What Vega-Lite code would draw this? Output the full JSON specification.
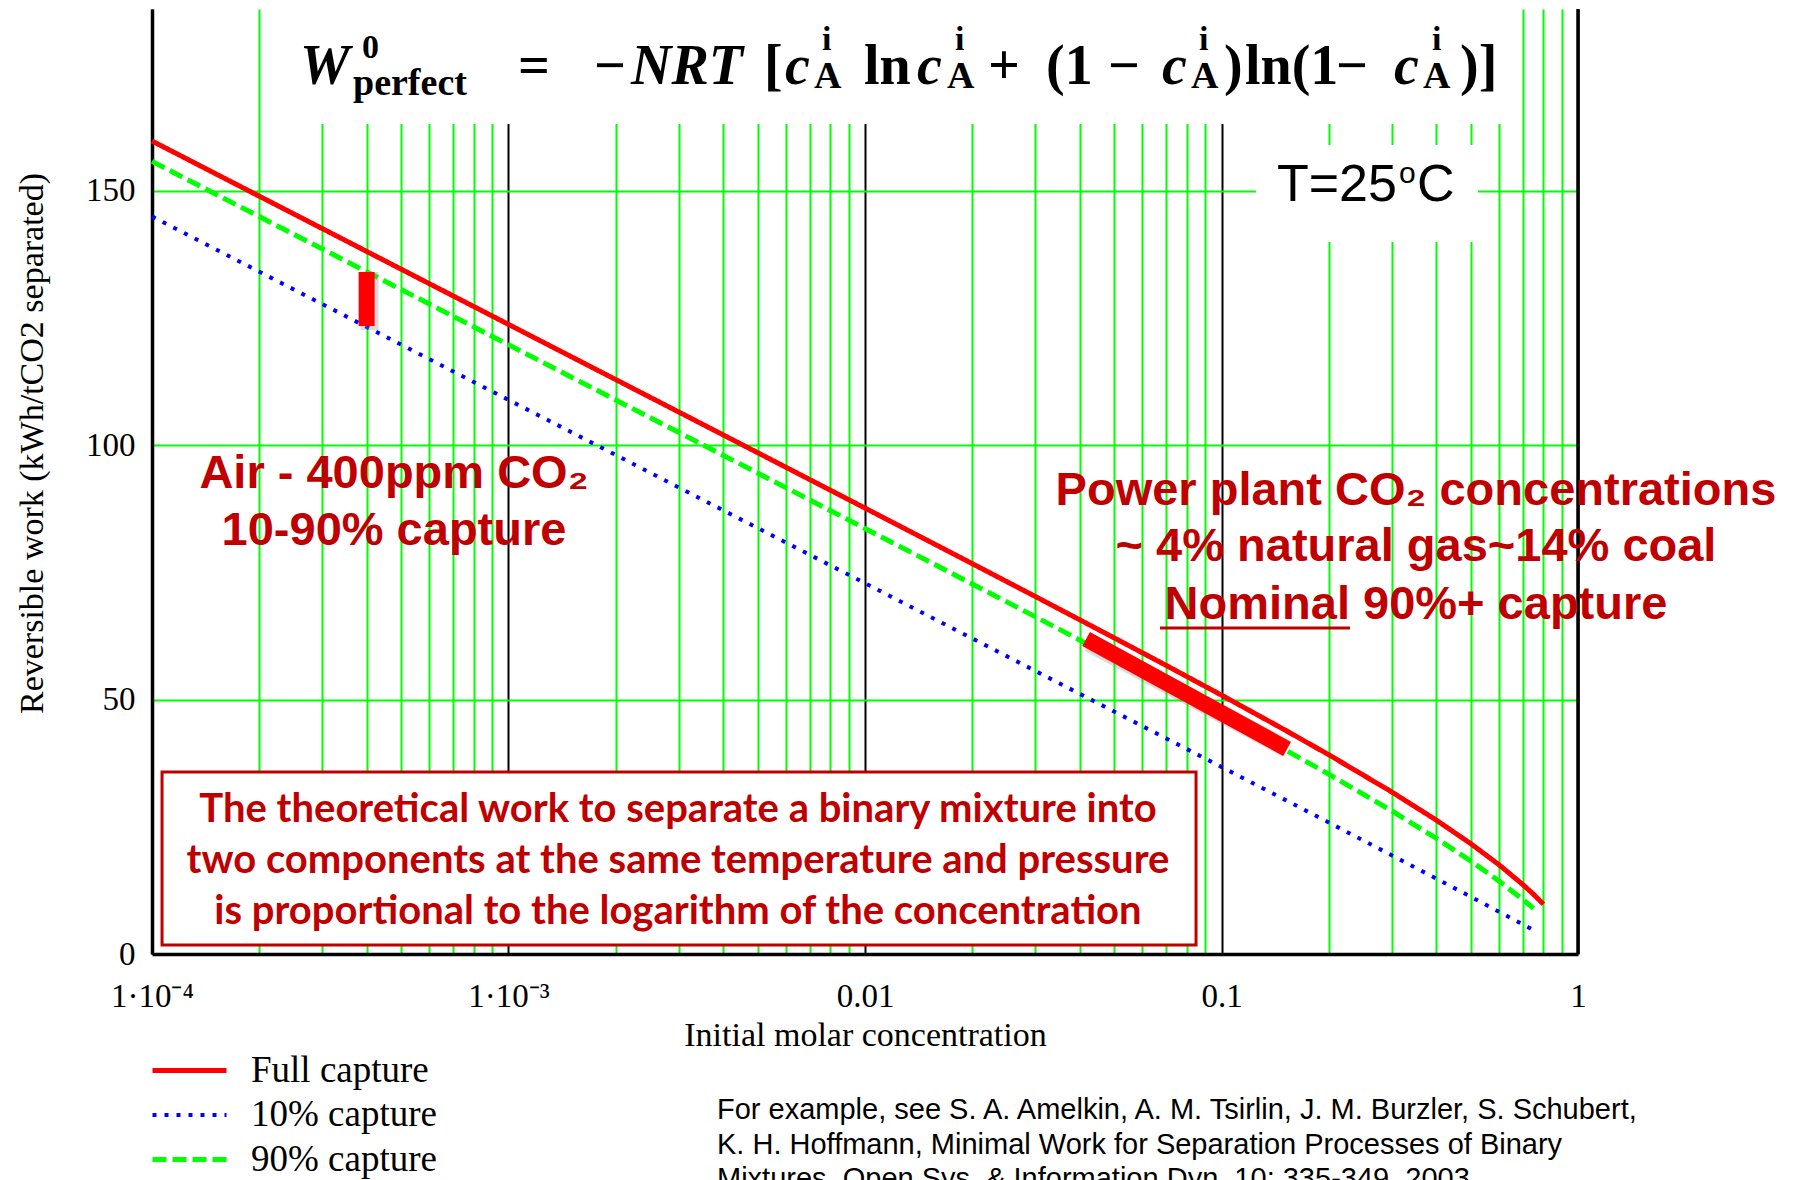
{
  "$schema": "https://vega.github.io/schema/vega-lite/v6.json",
  "width": 1426,
  "height": 945,
  "autosize": {"type": "none"},
  "padding": {"left": 152, "top": 9, "right": 215, "bottom": 226},
  "background": "white",
  "config": {
    "view": {"stroke": null},
    "legend": {
      "orient": "none",
      "legendX": -2,
      "legendY": 1043,
      "padding": 0,
      "symbolType": "stroke",
      "symbolSize": 5476,
      "labelFont": "Liberation Serif",
      "labelFontSize": 37,
      "labelColor": "black",
      "labelLimit": 0,
      "labelOffset": 22,
      "clipHeight": 37,
      "rowPadding": 6.5,
      "title": null
    }
  },
  "datasets": {
    "boxes": [
      {"x": 0.0002286, "x2": 0.6489, "y": 163.1, "y2": 185.7},
      {"x": 0.1249, "x2": 0.5242, "y": 139.9, "y2": 158.97}
    ],
    "curves": [
      {"x": 0.0001, "y": 159.76, "s": "Full capture"},
      {"x": 0.0002, "y": 148.91, "s": "Full capture"},
      {"x": 0.0003, "y": 142.57, "s": "Full capture"},
      {"x": 0.0005, "y": 134.57, "s": "Full capture"},
      {"x": 0.001, "y": 123.72, "s": "Full capture"},
      {"x": 0.002, "y": 112.87, "s": "Full capture"},
      {"x": 0.003, "y": 106.52, "s": "Full capture"},
      {"x": 0.005, "y": 98.51, "s": "Full capture"},
      {"x": 0.01, "y": 87.63, "s": "Full capture"},
      {"x": 0.02, "y": 76.70, "s": "Full capture"},
      {"x": 0.03, "y": 70.28, "s": "Full capture"},
      {"x": 0.05, "y": 62.12, "s": "Full capture"},
      {"x": 0.07, "y": 56.70, "s": "Full capture"},
      {"x": 0.1, "y": 50.87, "s": "Full capture"},
      {"x": 0.15, "y": 44.09, "s": "Full capture"},
      {"x": 0.2, "y": 39.15, "s": "Full capture"},
      {"x": 0.3, "y": 31.86, "s": "Full capture"},
      {"x": 0.4, "y": 26.33, "s": "Full capture"},
      {"x": 0.5, "y": 21.69, "s": "Full capture"},
      {"x": 0.6, "y": 17.55, "s": "Full capture"},
      {"x": 0.7, "y": 13.65, "s": "Full capture"},
      {"x": 0.75, "y": 11.73, "s": "Full capture"},
      {"x": 0.8, "y": 9.79, "s": "Full capture"},
      {"x": 0.0001, "y": 144.92, "s": "10% capture"},
      {"x": 0.0002, "y": 134.08, "s": "10% capture"},
      {"x": 0.0003, "y": 127.73, "s": "10% capture"},
      {"x": 0.0005, "y": 119.74, "s": "10% capture"},
      {"x": 0.001, "y": 108.89, "s": "10% capture"},
      {"x": 0.002, "y": 98.05, "s": "10% capture"},
      {"x": 0.003, "y": 91.70, "s": "10% capture"},
      {"x": 0.005, "y": 83.71, "s": "10% capture"},
      {"x": 0.01, "y": 72.86, "s": "10% capture"},
      {"x": 0.02, "y": 62.01, "s": "10% capture"},
      {"x": 0.03, "y": 55.65, "s": "10% capture"},
      {"x": 0.05, "y": 47.64, "s": "10% capture"},
      {"x": 0.07, "y": 42.36, "s": "10% capture"},
      {"x": 0.1, "y": 36.76, "s": "10% capture"},
      {"x": 0.15, "y": 30.38, "s": "10% capture"},
      {"x": 0.2, "y": 25.84, "s": "10% capture"},
      {"x": 0.3, "y": 19.41, "s": "10% capture"},
      {"x": 0.4, "y": 14.83, "s": "10% capture"},
      {"x": 0.5, "y": 11.26, "s": "10% capture"},
      {"x": 0.6, "y": 8.32, "s": "10% capture"},
      {"x": 0.7, "y": 5.83, "s": "10% capture"},
      {"x": 0.77, "y": 4.28, "s": "10% capture"},
      {"x": 0.0001, "y": 155.76, "s": "90% capture"},
      {"x": 0.0002, "y": 144.91, "s": "90% capture"},
      {"x": 0.0003, "y": 138.57, "s": "90% capture"},
      {"x": 0.0005, "y": 130.57, "s": "90% capture"},
      {"x": 0.001, "y": 119.72, "s": "90% capture"},
      {"x": 0.002, "y": 108.87, "s": "90% capture"},
      {"x": 0.003, "y": 102.52, "s": "90% capture"},
      {"x": 0.005, "y": 94.51, "s": "90% capture"},
      {"x": 0.01, "y": 83.63, "s": "90% capture"},
      {"x": 0.02, "y": 72.71, "s": "90% capture"},
      {"x": 0.03, "y": 66.30, "s": "90% capture"},
      {"x": 0.05, "y": 58.16, "s": "90% capture"},
      {"x": 0.07, "y": 52.75, "s": "90% capture"},
      {"x": 0.1, "y": 46.95, "s": "90% capture"},
      {"x": 0.15, "y": 40.22, "s": "90% capture"},
      {"x": 0.2, "y": 35.33, "s": "90% capture"},
      {"x": 0.3, "y": 28.15, "s": "90% capture"},
      {"x": 0.4, "y": 22.75, "s": "90% capture"},
      {"x": 0.5, "y": 18.28, "s": "90% capture"},
      {"x": 0.6, "y": 14.34, "s": "90% capture"},
      {"x": 0.7, "y": 10.71, "s": "90% capture"},
      {"x": 0.75, "y": 8.97, "s": "90% capture"}
    ],
    "airbar": [{"x": 0.0004, "y": 123.4, "y2": 134.0}],
    "plantbar": [{"x": 0.0417, "x2": 0.1527, "y": 61.9, "y2": 40.3}],
    "frame": [{"x": 1, "y": 0, "y2": 185.7}],
    "textbox": [{"x": 0.0001067, "x2": 0.08483, "y": 1.77, "y2": 35.76}],
    "boxtext": [
      {"x": 0.002988, "y": 25.94, "t": "The theoretical work to separate a binary mixture into"},
      {"x": 0.002988, "y": 15.92, "t": "two components at the same temperature and pressure"},
      {"x": 0.002988, "y": 5.90, "t": "is proportional to the logarithm of the concentration"}
    ],
    "notes": [
      {"x": 0.0004773, "y": 91.57, "t": "Air - 400ppm CO₂"},
      {"x": 0.0004773, "y": 80.37, "t": "10-90% capture"},
      {"x": 0.3512, "y": 88.23, "t": "Power plant CO₂ concentrations"},
      {"x": 0.3512, "y": 77.23, "t": "~ 4% natural gas~14% coal"},
      {"x": 0.3512, "y": 65.83, "t": "Nominal 90%+ capture"}
    ],
    "underline": [{"x": 0.06723, "x2": 0.2293, "y": 64.06}],
    "tbig": [
      {"x": 0.1431, "y": 147.96, "t": "T=25"},
      {"x": 0.3535, "y": 147.96, "t": "C"}
    ],
    "tsmall": [{"x": 0.3147, "y": 151.5, "t": "o"}],
    "fItalic": [
      {"x": 0.0002601, "y": 171.0, "t": "W"},
      {"x": 0.002206, "y": 171.0, "t": "NRT"},
      {"x": 0.005966, "y": 171.0, "t": "c"},
      {"x": 0.01399, "y": 171.0, "t": "c"},
      {"x": 0.06809, "y": 171.0, "t": "c"},
      {"x": 0.3047, "y": 171.0, "t": "c"}
    ],
    "fUpright": [
      {"x": 0.0010633, "y": 171.0, "t": "="},
      {"x": 0.001737, "y": 171.0, "t": "−"},
      {"x": 0.005209, "y": 171.0, "t": "["},
      {"x": 0.009935, "y": 171.0, "t": "ln"},
      {"x": 0.02213, "y": 171.0, "t": "+"},
      {"x": 0.03219, "y": 171.0, "t": "(1"},
      {"x": 0.04804, "y": 171.0, "t": "−"},
      {"x": 0.10163, "y": 171.0, "t": ")"},
      {"x": 0.1164, "y": 171.0, "t": "ln(1"},
      {"x": 0.2095, "y": 171.0, "t": "−"},
      {"x": 0.4667, "y": 171.0, "t": ")]"}
    ],
    "fSub": [
      {"x": 0.0003663, "y": 168.8, "t": "perfect"},
      {"x": 0.007194, "y": 170.2, "t": "A"},
      {"x": 0.01698, "y": 170.2, "t": "A"},
      {"x": 0.08213, "y": 170.2, "t": "A"},
      {"x": 0.3675, "y": 170.2, "t": "A"}
    ],
    "fSup": [
      {"x": 0.0003882, "y": 176.1, "t": "0"},
      {"x": 0.007575, "y": 177.6, "t": "i"},
      {"x": 0.01788, "y": 177.6, "t": "i"},
      {"x": 0.08648, "y": 177.6, "t": "i"},
      {"x": 0.3895, "y": 177.6, "t": "i"}
    ],
    "footnote": [
      {"x": 0.003845, "y": -32.42, "t": "For example, see S. A. Amelkin, A. M. Tsirlin, J. M. Burzler, S. Schubert,"},
      {"x": 0.003845, "y": -39.30, "t": "K. H. Hoffmann, Minimal Work for Separation Processes of Binary"},
      {"x": 0.003845, "y": -45.98, "t": "Mixtures, Open Sys. & Information Dyn. 10: 335-349, 2003."}
    ]
  },
  "encoding": {
    "x": {
      "field": "x",
      "type": "quantitative",
      "scale": {"type": "log", "domain": [0.0001, 1], "nice": false},
      "axis": {
        "values": [0.0001, 0.0002, 0.0003, 0.0004, 0.0005, 0.0006, 0.0007, 0.0008, 0.0009,
                   0.001, 0.002, 0.003, 0.004, 0.005, 0.006, 0.007, 0.008, 0.009,
                   0.01, 0.02, 0.03, 0.04, 0.05, 0.06, 0.07, 0.08, 0.09,
                   0.1, 0.2, 0.3, 0.4, 0.5, 0.6, 0.7, 0.8, 0.9, 1],
        "labelExpr": "datum.value < 0.00015 ? '1·10⁻⁴' : (abs(datum.value - 0.001) < 1e-9 ? '1·10⁻³' : (abs(datum.value - 0.01) < 1e-9 ? '0.01' : (abs(datum.value - 0.1) < 1e-9 ? '0.1' : (datum.value == 1 ? '1' : ''))))",
        "labelFont": "Liberation Serif",
        "labelFontSize": 33,
        "labelColor": "black",
        "labelPadding": 26,
        "labelOverlap": false,
        "labelFlush": false,
        "ticks": false,
        "domainColor": "black",
        "domainWidth": 3.5,
        "grid": true,
        "gridColor": {"condition": {"test": "abs(log(datum.value)/LN10 - round(log(datum.value)/LN10)) < 0.001", "value": "black"}, "value": "#00ff00"},
        "gridWidth": 2,
        "gridOpacity": 1,
        "title": "Initial molar concentration",
        "titleFont": "Liberation Serif",
        "titleFontSize": 34,
        "titleFontWeight": "normal",
        "titleColor": "black",
        "titleBaseline": "alphabetic",
        "titleY": 91
      }
    },
    "y": {
      "field": "y",
      "type": "quantitative",
      "scale": {"domain": [0, 185.7], "nice": false, "zero": false},
      "axis": {
        "values": [0, 50, 100, 150],
        "labelFont": "Liberation Serif",
        "labelFontSize": 33,
        "labelColor": "black",
        "labelPadding": 17,
        "ticks": false,
        "domainColor": "black",
        "domainWidth": 3.5,
        "grid": true,
        "gridColor": "#00ff00",
        "gridWidth": 2,
        "gridOpacity": {"condition": {"test": "datum.value == 0", "value": 0}, "value": 1},
        "title": "Reversible work (kWh/tCO2 separated)",
        "titleFont": "Liberation Serif",
        "titleFontSize": 34,
        "titleFontWeight": "normal",
        "titleColor": "black",
        "titleBaseline": "alphabetic",
        "titleAlign": "center",
        "titleAngle": -90,
        "titleX": -110,
        "titleY": 434
      }
    }
  },
  "layer": [
    {
      "data": {"name": "boxes"},
      "mark": {"type": "rect", "fill": "white"},
      "encoding": {"x2": {"field": "x2"}, "y2": {"field": "y2"}}
    },
    {
      "data": {"name": "curves"},
      "mark": {"type": "line", "strokeCap": "butt"},
      "encoding": {
        "color": {"field": "s", "type": "nominal", "scale": {"domain": ["Full capture", "10% capture", "90% capture"], "range": ["#ff0000", "#0000ff", "#00ff00"]}},
        "strokeDash": {"field": "s", "type": "nominal", "scale": {"domain": ["Full capture", "10% capture", "90% capture"], "range": [[1, 0], [4, 8], [14, 6]]}},
        "strokeWidth": {"field": "s", "type": "nominal", "scale": {"type": "ordinal", "domain": ["Full capture", "10% capture", "90% capture"], "range": [5, 4, 5]}}
      }
    },
    {
      "data": {"name": "airbar"},
      "mark": {"type": "rule", "color": "#888888", "opacity": 0.3, "strokeWidth": 18, "strokeCap": "butt", "xOffset": 3, "yOffset": 4},
      "encoding": {"y2": {"field": "y2"}}
    },
    {
      "data": {"name": "airbar"},
      "mark": {"type": "rule", "color": "#ff0000", "strokeWidth": 16, "strokeCap": "butt"},
      "encoding": {"y2": {"field": "y2"}}
    },
    {
      "data": {"name": "plantbar"},
      "mark": {"type": "rule", "color": "#888888", "opacity": 0.3, "strokeWidth": 18, "strokeCap": "butt", "xOffset": 3, "yOffset": 4},
      "encoding": {"x2": {"field": "x2"}, "y2": {"field": "y2"}}
    },
    {
      "data": {"name": "plantbar"},
      "mark": {"type": "rule", "color": "#ff0000", "strokeWidth": 16, "strokeCap": "butt"},
      "encoding": {"x2": {"field": "x2"}, "y2": {"field": "y2"}}
    },
    {
      "data": {"name": "frame"},
      "mark": {"type": "rule", "color": "black", "strokeWidth": 3.5},
      "encoding": {"y2": {"field": "y2"}}
    },
    {
      "data": {"name": "textbox"},
      "mark": {"type": "rect", "fill": "white", "stroke": "#c00000", "strokeWidth": 3},
      "encoding": {"x2": {"field": "x2"}, "y2": {"field": "y2"}}
    },
    {
      "data": {"name": "boxtext"},
      "mark": {"type": "text", "font": "Lato", "fontWeight": "bold", "fontSize": 40, "color": "#c00000", "align": "center", "baseline": "alphabetic"},
      "encoding": {"text": {"field": "t"}}
    },
    {
      "data": {"name": "notes"},
      "mark": {"type": "text", "font": "Liberation Sans", "fontWeight": "bold", "fontSize": 47, "color": "#c00000", "align": "center", "baseline": "alphabetic"},
      "encoding": {"text": {"field": "t"}}
    },
    {
      "data": {"name": "underline"},
      "mark": {"type": "rule", "color": "#c00000", "strokeWidth": 3},
      "encoding": {"x2": {"field": "x2"}}
    },
    {
      "data": {"name": "tbig"},
      "mark": {"type": "text", "font": "Liberation Sans", "fontSize": 52, "color": "black", "align": "left", "baseline": "alphabetic"},
      "encoding": {"text": {"field": "t"}}
    },
    {
      "data": {"name": "tsmall"},
      "mark": {"type": "text", "font": "Liberation Sans", "fontSize": 30, "color": "black", "align": "left", "baseline": "alphabetic"},
      "encoding": {"text": {"field": "t"}}
    },
    {
      "data": {"name": "fItalic"},
      "mark": {"type": "text", "font": "Liberation Serif", "fontWeight": "bold", "fontStyle": "italic", "fontSize": 56, "color": "black", "align": "left", "baseline": "alphabetic"},
      "encoding": {"text": {"field": "t"}}
    },
    {
      "data": {"name": "fUpright"},
      "mark": {"type": "text", "font": "Liberation Serif", "fontWeight": "bold", "fontSize": 56, "color": "black", "align": "left", "baseline": "alphabetic"},
      "encoding": {"text": {"field": "t"}}
    },
    {
      "data": {"name": "fSub"},
      "mark": {"type": "text", "font": "Liberation Serif", "fontWeight": "bold", "fontSize": 38, "color": "black", "align": "left", "baseline": "alphabetic"},
      "encoding": {"text": {"field": "t"}}
    },
    {
      "data": {"name": "fSup"},
      "mark": {"type": "text", "font": "Liberation Serif", "fontWeight": "bold", "fontSize": 34, "color": "black", "align": "left", "baseline": "alphabetic"},
      "encoding": {"text": {"field": "t"}}
    },
    {
      "data": {"name": "footnote"},
      "mark": {"type": "text", "font": "Liberation Sans", "fontSize": 29, "color": "black", "align": "left", "baseline": "alphabetic"},
      "encoding": {"text": {"field": "t"}}
    }
  ]
}
